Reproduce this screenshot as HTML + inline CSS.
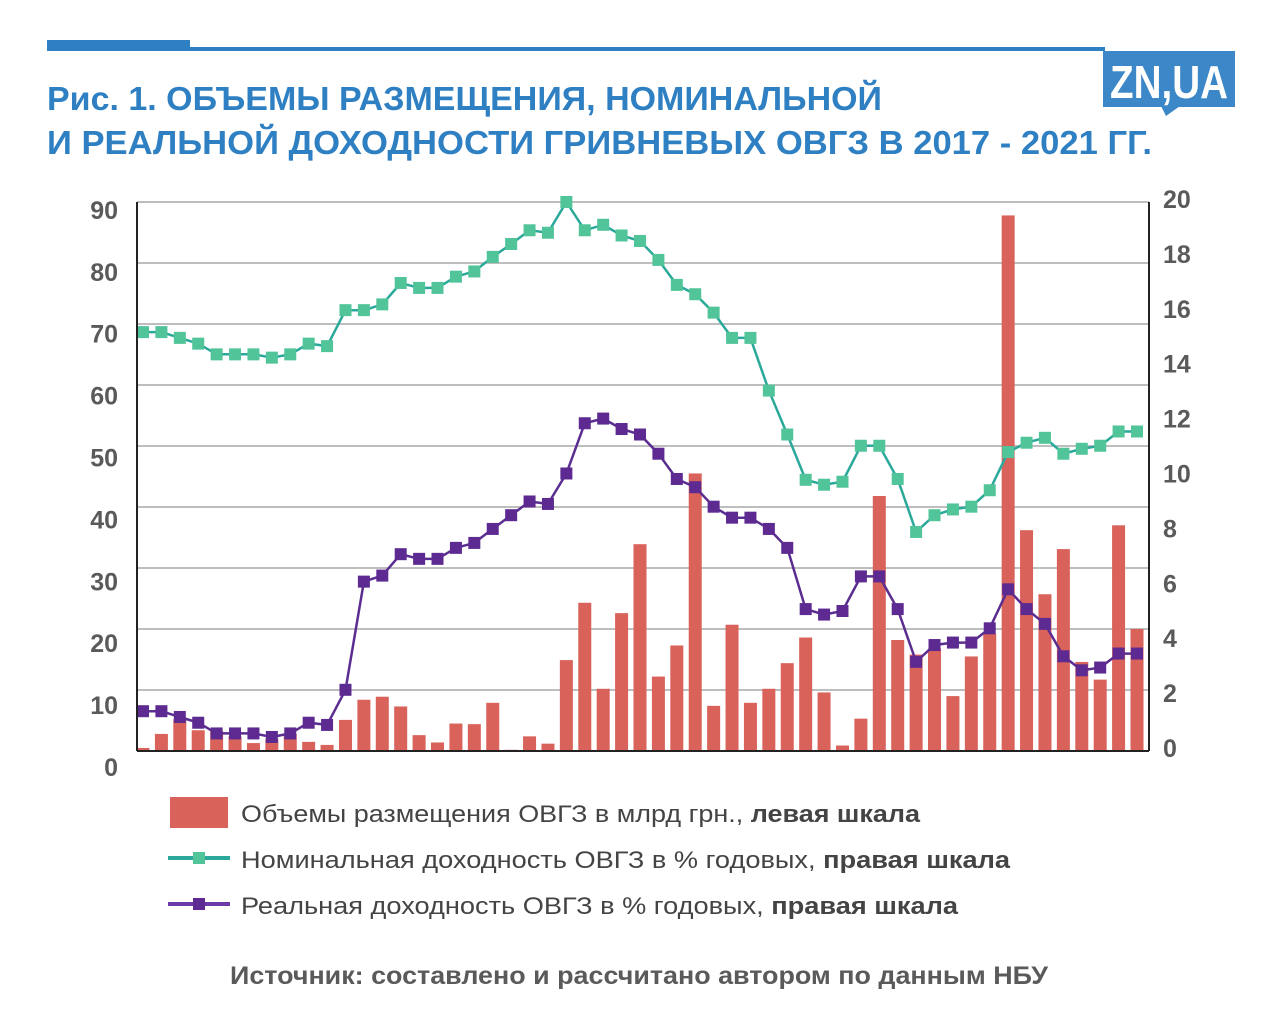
<!DOCTYPE html>
<html><head><meta charset="utf-8"><style>
html,body{margin:0;padding:0;background:#fff;}
svg{display:block;font-family:"Liberation Sans",sans-serif;}
</style></head><body>
<svg id="chart" width="1280" height="1027" viewBox="0 0 1280 1027">
<rect x="0" y="0" width="1280" height="1027" fill="#fff"/>
<rect x="47" y="40" width="143" height="11" fill="#2f80c3"/>
<rect x="190" y="47" width="915" height="4" fill="#2f80c3"/>
<g>
<rect x="1103" y="51" width="132" height="56" fill="#3b87c7"/>
<polygon points="1161,106 1180,106 1166,116" fill="#3b87c7"/>
<text x="1169" y="98" text-anchor="middle" font-size="46" font-weight="bold" fill="#fff" textLength="118" lengthAdjust="spacingAndGlyphs">ZN,UA</text>
</g>
<text x="47" y="110" font-size="33" font-weight="bold" fill="#2f80c3" textLength="835" lengthAdjust="spacingAndGlyphs">Рис. 1. ОБЪЕМЫ РАЗМЕЩЕНИЯ, НОМИНАЛЬНОЙ</text>
<text x="47" y="154" font-size="33" font-weight="bold" fill="#2f80c3" textLength="1105" lengthAdjust="spacingAndGlyphs">И РЕАЛЬНОЙ ДОХОДНОСТИ ГРИВНЕВЫХ ОВГЗ В 2017 - 2021 ГГ.</text>
<g id="grid"></g>
<g id="bars"></g>
<g id="lines"></g>
<line x1="137" y1="202" x2="137" y2="751" stroke="#222" stroke-width="2"/>
<line x1="1149" y1="202" x2="1149" y2="751" stroke="#222" stroke-width="2"/>
<line x1="137" y1="751" x2="1149" y2="751" stroke="#222" stroke-width="2"/>
<g id="leftTicks"></g>
<g id="rightTicks"></g>
<g>
<g>
<rect x="170" y="797" width="58" height="31" fill="#d9625a"/>
<text x="241" y="822" font-size="24" fill="#444" textLength="679" lengthAdjust="spacingAndGlyphs">Объемы размещения ОВГЗ в млрд грн., <tspan font-weight="bold">левая шкала</tspan></text>
</g>
<g>
<line x1="168" y1="858" x2="230" y2="858" stroke="#2aa89a" stroke-width="4"/>
<rect x="193" y="852" width="12" height="12" fill="#52c49a"/>
<text x="241" y="868" font-size="24" fill="#444" textLength="769" lengthAdjust="spacingAndGlyphs">Номинальная доходность ОВГЗ в % годовых, <tspan font-weight="bold">правая шкала</tspan></text>
</g>
<g>
<line x1="168" y1="904" x2="230" y2="904" stroke="#6a3aa8" stroke-width="4"/>
<rect x="193" y="898" width="12" height="12" fill="#5c2a91"/>
<text x="241" y="914" font-size="24" fill="#444" textLength="717" lengthAdjust="spacingAndGlyphs">Реальная доходность ОВГЗ в % годовых, <tspan font-weight="bold">правая шкала</tspan></text>
</g>
</g>
<text x="230" y="984" font-size="25" font-weight="bold" fill="#5a5a5a" textLength="818" lengthAdjust="spacingAndGlyphs">Источник: составлено и рассчитано автором по данным НБУ</text>
</svg>
<script>
const volumes = [0.5,2.8,5.2,3.4,3.3,2.4,1.3,2.0,2.8,1.5,1.0,5.1,8.4,8.9,7.3,2.6,1.4,4.5,4.4,7.9,0.2,2.4,1.2,14.9,24.3,10.2,22.6,33.9,12.2,17.3,45.5,7.4,20.7,7.9,10.2,14.4,18.6,9.6,0.9,5.3,41.8,18.2,15.8,16.8,9.0,15.5,19.2,87.8,36.2,25.7,33.1,14.6,11.7,37.0,20.0];
const nominal = [15.26,15.26,15.05,14.84,14.45,14.45,14.45,14.33,14.45,14.84,14.75,16.06,16.06,16.27,17.05,16.87,16.87,17.28,17.47,18.00,18.47,18.97,18.88,20.0,18.97,19.17,18.78,18.58,17.89,16.98,16.64,15.97,15.05,15.05,13.13,11.53,9.88,9.70,9.81,11.12,11.12,9.91,7.98,8.59,8.80,8.90,9.50,10.89,11.23,11.41,10.83,11.01,11.12,11.64,11.64];
const real = [1.45,1.45,1.24,1.03,0.64,0.64,0.64,0.51,0.64,1.03,0.95,2.23,6.17,6.39,7.17,7.00,7.00,7.40,7.58,8.09,8.59,9.09,9.00,10.11,11.94,12.11,11.73,11.53,10.83,9.91,9.61,8.90,8.50,8.50,8.09,7.40,5.17,4.97,5.10,6.36,6.36,5.17,3.25,3.86,3.95,3.95,4.47,5.89,5.17,4.63,3.45,2.94,3.04,3.55,3.55];
const leftTickLabels = ["0","10","20","30","40","50","60","70","80","90"];
const rightTickLabels = ["0","2","4","6","8","10","12","14","16","18","20"];

const NS = "http://www.w3.org/2000/svg";
const top_ = 202, base = 751, leftMax = 90, rightMax = 20;
const x0 = 143, x1 = 1137;
function xAt(i){ return x0 + i*(x1-x0)/(volumes.length-1); }
function yLeft(v){ return base - v*(base-top_)/leftMax; }
function yRight(v){ return base - v*(base-top_)/rightMax; }
function mk(tag, attrs, parent){ const e=document.createElementNS(NS,tag); for(const k in attrs) e.setAttribute(k,attrs[k]); parent.appendChild(e); return e; }

const grid = document.getElementById('grid');
for(let i=1;i<leftTickLabels.length;i++){
  const v = Number(leftTickLabels[i]);
  const l = mk('line',{x1:137,x2:1149,y1:yLeft(v),y2:yLeft(v),stroke:'#a8a8a8','stroke-width':1.5},grid);
  
  
}
const lt = document.getElementById('leftTicks');
leftTickLabels.forEach((s,i)=>{
  const t = mk('text',{x:118,y:0,'text-anchor':'end','font-size':25,'font-weight':'bold',fill:'#5a5a5a'},lt);
  t.setAttribute('y', 767 - i*61.9 + 9);
  t.textContent = s;
  
  
});
const rt = document.getElementById('rightTicks');
rightTickLabels.forEach((s,i)=>{
  const t = mk('text',{x:1163,y:yRight(Number(s))+6,'font-size':25,'font-weight':'bold',fill:'#5a5a5a'},rt);
  t.textContent = s;
  
  
});
const bars = document.getElementById('bars');
volumes.forEach((v,i)=>{
  const r = mk('rect',{x:xAt(i)-6.5,y:yLeft(v),width:13,height:base-yLeft(v),fill:'#d9625a'},bars);
  
  
});
const lines = document.getElementById('lines');
function series(data, lineColor, markColor, name){
  const g = mk('g',{},lines);
  
  
  const pts = data.map((v,i)=>xAt(i).toFixed(1)+','+yRight(v).toFixed(1)).join(' ');
  const p = mk('polyline',{points:pts,fill:'none',stroke:lineColor,'stroke-width':2.5},g);
  
  
  data.forEach((v,i)=>{
    const m = mk('rect',{x:xAt(i)-6,y:yRight(v)-6,width:12,height:12,fill:markColor},g);
    
    
  });
}
series(nominal,'#2aa89a','#52c49a','nominal-yield');
series(real,'#5c2d91','#5c2a91','real-yield');
</script>
</body></html>
